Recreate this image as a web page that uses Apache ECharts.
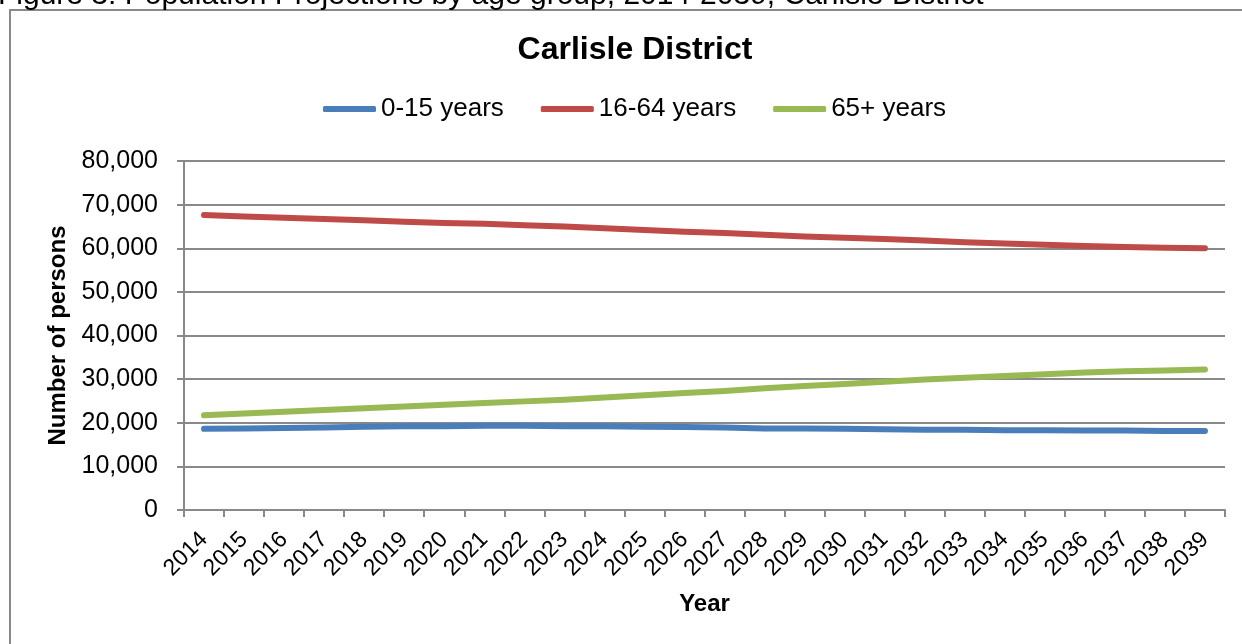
<!DOCTYPE html>
<html>
<head>
<meta charset="utf-8">
<script src="https://cdn.jsdelivr.net/npm/echarts@6/dist/echarts.min.js"></script>
<style>html,body{margin:0;padding:0;background:#fff;}#c{width:1242px;height:644px;}</style>
</head>
<body>
<div id="c"></div>
<script>
const years = ['2014','2015','2016','2017','2018','2019','2020','2021','2022','2023','2024','2025','2026','2027','2028','2029','2030','2031','2032','2033','2034','2035','2036','2037','2038','2039'];
const age0to15 = [18600,18700,18800,18900,19100,19200,19200,19300,19300,19200,19200,19100,19000,18900,18700,18700,18600,18500,18400,18400,18300,18300,18200,18200,18100,18100];
const age16to64 = [67600,67300,67000,66700,66400,66100,65800,65600,65300,65000,64600,64200,63800,63500,63100,62700,62400,62100,61800,61400,61100,60800,60500,60300,60100,60000];
const age65plus = [21700,22100,22500,22900,23300,23700,24100,24500,24900,25300,25800,26300,26800,27300,27900,28400,28900,29400,29900,30300,30700,31100,31500,31800,32000,32200];
const yTicks = [0,10000,20000,30000,40000,50000,60000,70000,80000];

const font = 'Liberation Sans, Arial, sans-serif';
const gray = '#898989';
const chart = echarts.init(document.getElementById('c'));
function mk(name, data, color){
  return {name, type:'line', data, symbol:'none', smooth:false,
    lineStyle:{color, width:6, cap:'round', join:'round'}, itemStyle:{color}};
}
chart.setOption({
  animation:false,
  backgroundColor:'#fff',
  graphic:[
    {type:'rect', shape:{x:10,y:10,width:1260,height:660}, style:{fill:'none', stroke:gray, lineWidth:2}},
    {type:'text', x:-2, y:-4, style:{text:'Figure 3: Population Projections by age group, 2014-2039, Carlisle District', font:'30px '+font, fill:'#000', textVerticalAlign:'middle'}}
  ],
  title:{text:'Carlisle District', left:630, textAlign:'center', top:29,
    textStyle:{fontFamily:font, fontSize:32, fontWeight:'bold', color:'#000'}},
  legend:{left:318, top:91, itemWidth:53, itemHeight:6, itemGap:37,
    icon:'roundRect', textStyle:{fontFamily:font, fontSize:26, color:'#000'},
    data:['0-15 years','16-64 years','65+ years']},
  grid:{left:184, right:17, top:161, bottom:134, containLabel:false},
  xAxis:{type:'category', data:years, boundaryGap:true,
    name:'Year', nameLocation:'middle', nameGap:82,
    nameTextStyle:{fontFamily:font, fontSize:24, fontWeight:'bold', color:'#000'},
    axisLine:{lineStyle:{color:gray, width:2}},
    axisTick:{show:true, length:7, lineStyle:{color:gray, width:2}},
    axisLabel:{rotate:45, interval:0, fontFamily:font, fontSize:23, color:'#000', margin:26}},
  yAxis:{type:'value', min:0, max:80000, interval:10000,
    name:'Number of persons', nameLocation:'middle', nameGap:112,
    nameTextStyle:{fontFamily:font, fontSize:24, fontWeight:'bold', color:'#000'},
    axisLine:{show:true, lineStyle:{color:gray, width:2}},
    axisTick:{show:true, length:7, lineStyle:{color:gray, width:2}},
    splitLine:{lineStyle:{color:gray, width:2}},
    axisLabel:{fontFamily:font, fontSize:25, color:'#000', margin:26,
      customValues: yTicks,
      formatter:v=>v.toLocaleString('en-US')}},
  series:[mk('0-15 years', age0to15, '#4a7ebb'), mk('16-64 years', age16to64, '#be4b48'), mk('65+ years', age65plus, '#98b954')]
});
</script>
</body>
</html>
